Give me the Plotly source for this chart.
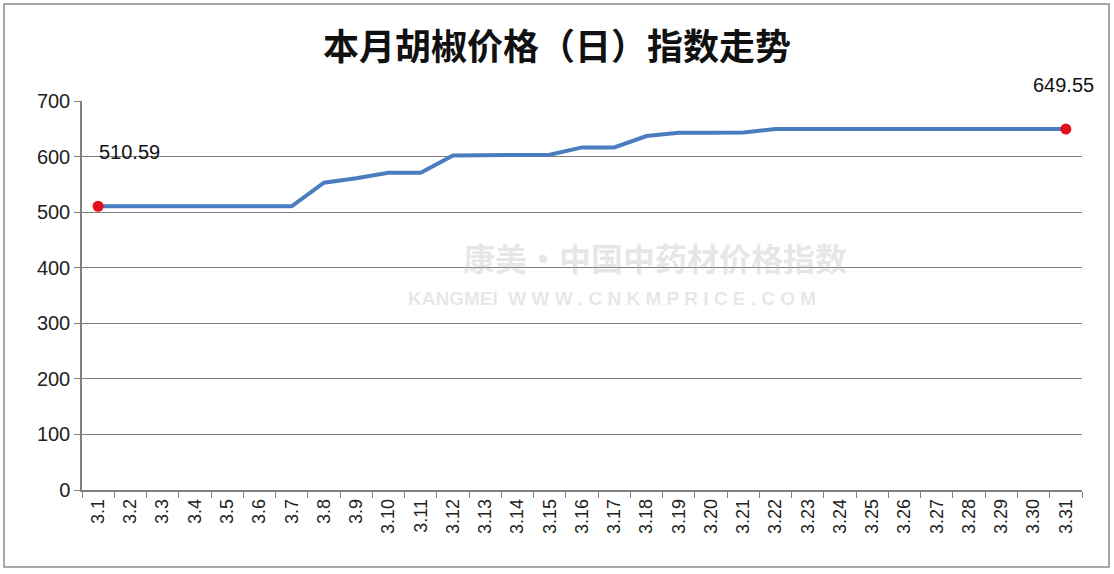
import plotly.graph_objects as go

dates = ["3.%d" % d for d in range(1, 32)]
index_values = [510.59, 510.59, 510.59, 510.59, 510.59, 510.59, 510.59,
                553.0, 561.0, 571.0, 571.0, 602.0, 603.0, 603.0, 603.5,
                616.5, 616.5, 637.0, 643.0, 643.0, 643.5, 649.55, 649.55,
                649.55, 649.55, 649.55, 649.55, 649.55, 649.55, 649.55, 649.55]
y_ticks = [0, 100, 200, 300, 400, 500, 600, 700]
title_text = "本月胡椒价格（日）指数走势"

L, R, T, B = 82, 32, 101, 84
W, H = 1114, 574
pw, ph = W - L - R, H - T - B

def px_x(p):
    return (p - L) / pw

def px_y(p):
    return (H - B - p) / ph

fig = go.Figure()
fig.add_trace(go.Scatter(
    x=dates, y=index_values, mode="lines",
    line=dict(color="#4a7dc0", width=4), hoverinfo="x+y", showlegend=False))
fig.add_trace(go.Scatter(
    x=[dates[0], dates[-1]], y=[index_values[0], index_values[-1]], mode="markers",
    marker=dict(color="#e2101c", size=11), showlegend=False))

first_i, last_i = 0, len(dates) - 1
fig.add_annotation(x=first_i, y=index_values[first_i], text="%.2f" % index_values[first_i],
                   showarrow=False, xanchor="left", yanchor="middle", xshift=-1, yshift=54,
                   font=dict(size=20, color="#111111", family="Liberation Sans, Arial"))
fig.add_annotation(x=last_i, y=index_values[last_i], text="%.2f" % index_values[last_i],
                   showarrow=False, xanchor="center", yanchor="middle", xshift=-2, yshift=44,
                   font=dict(size=20, color="#111111", family="Liberation Sans, Arial"))

# watermark
fig.add_annotation(xref="paper", yref="paper", x=px_x(655), y=px_y(257), text="<b>康美·中国中药材价格指数</b>",
                   showarrow=False, font=dict(size=32, color="rgba(185,185,185,0.35)",
                                               family="Noto Sans CJK SC"))
fig.add_annotation(xref="paper", yref="paper", x=px_x(612), y=px_y(298), text="<b>KANGMEI  W W W . C N K M P R I C E . C O M</b>",
                   showarrow=False, font=dict(size=19, color="rgba(185,185,185,0.35)",
                                               family="Liberation Sans, Arial"))

fig.add_shape(type="rect", xref="paper", yref="paper",
              x0=px_x(4), x1=px_x(1109), y0=px_y(567), y1=px_y(4),
              line=dict(color="#8a8a8a", width=1.5), layer="below")

fig.update_layout(
    width=W, height=H,
    margin=dict(l=L, r=R, t=T, b=B),
    paper_bgcolor="white", plot_bgcolor="white",
    title=dict(text="<b>%s</b>" % title_text, x=0.5, xref="container", xanchor="center",
               y=1 - 47 / H, yanchor="middle",
               font=dict(size=36, color="#111111", family="Noto Sans CJK SC")),
    xaxis=dict(type="category", range=[-0.5, 30.5], tickangle=-90,
               tickson="boundaries", ticks="outside", ticklen=6, tickcolor="#808080",
               showline=True, linecolor="#808080", linewidth=1.5, showgrid=False,
               tickfont=dict(size=18, color="#222222", family="Liberation Sans, Arial")),
    yaxis=dict(range=[0, 700], tickvals=y_ticks, ticks="outside", ticklen=6,
               tickcolor="#808080", showline=True, linecolor="#808080", linewidth=1.5,
               showgrid=True, gridcolor="#7f7f7f", gridwidth=1, zeroline=False,
               tickfont=dict(size=20, color="#222222", family="Liberation Sans, Arial")),
)

fig.write_html("out.html", config={"displayModeBar": False},
               post_script="document.body.style.margin='0';")
